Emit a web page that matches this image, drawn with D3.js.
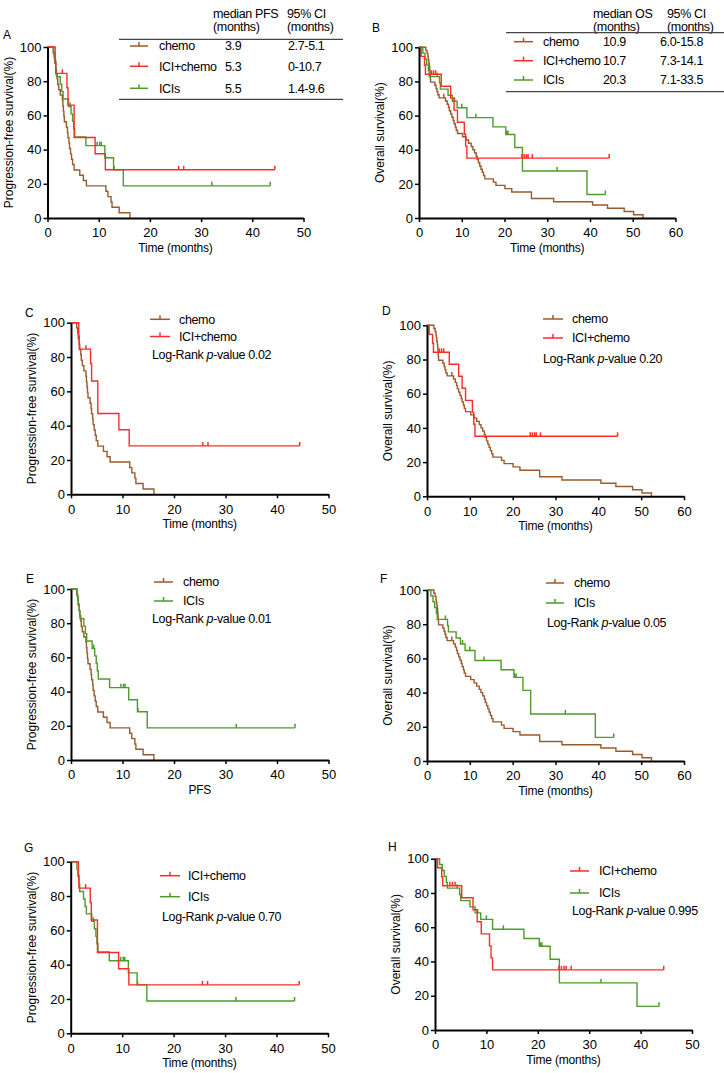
<!DOCTYPE html>
<html><head><meta charset="utf-8">
<script src="https://cdn.jsdelivr.net/npm/d3@7"></script>
<style>
body{margin:0;background:#fff;}
svg text{font-family:"Liberation Sans",Arial,sans-serif;fill:#000;}
</style></head><body>
<svg id="chart" width="724" height="1073"></svg>
<script>
// ---------------- DATA ----------------
const seriesNames = ["chemo", "ICI+chemo", "ICIs"];
const seriesColors = ["#9b5a2c", "#ff2b2b", "#4e9a2b"];

// Kaplan-Meier steps: [time (months), survival % after the step]
const pfsChemo = [[0,100],[1.1,96.9],[1.3,93.8],[1.4,90.6],[1.6,87.5],[1.7,84.4],[1.9,81.3],[2.0,78.1],[2.2,75.0],[2.5,71.9],[2.9,68.8],[3.0,65.6],[3.1,62.5],[3.2,59.4],[3.3,56.3],[3.7,53.1],[3.9,50.0],[4.0,46.9],[4.2,43.8],[4.3,40.6],[4.5,37.5],[4.7,34.4],[4.9,31.3],[5.2,28.1],[6.3,25.0],[7.0,21.9],[7.6,18.8],[11.4,15.6],[11.8,12.5],[12.4,9.4],[12.6,6.3],[14.0,3.1],[16.1,0]];
const pfsChemoCensor = [];
const pfsCombo = [[0,100],[1.5,92.3],[1.6,84.6],[3.8,76.2],[4.0,66.0],[5.2,47.1],[9.3,37.6],[11.3,28.2]];
const pfsComboCensor = [2.9, 25.6, 26.6, 44.4];
const pfsICI = [[0,100],[1.2,95.7],[1.4,91.3],[1.6,87.0],[1.75,82.6],[2.5,78.3],[2.8,73.9],[3.05,69.6],[4.1,65.2],[4.6,60.9],[4.9,56.5],[5.1,52.2],[5.3,47.4],[7.5,42.3],[11.2,35.2],[12.9,28.2],[14.8,18.8]];
const pfsICICensor = [4.4, 9.7, 10.2, 10.5, 13.0, 32.1, 43.5];

const osChemo = [[0,100],[1.6,98.1],[1.9,96.3],[2.1,94.4],[2.2,92.6],[2.3,90.7],[2.4,88.9],[2.5,87.0],[2.55,85.2],[2.6,83.3],[2.65,81.5],[2.7,79.6],[3.7,77.8],[4.0,75.9],[4.2,74.1],[4.4,72.2],[4.7,70.4],[6.2,68.5],[6.6,66.6],[6.9,64.7],[7.1,62.8],[7.4,60.9],[7.7,59.0],[8.0,57.1],[8.2,55.2],[8.5,53.3],[8.7,51.4],[9.0,49.5],[10.2,47.6],[11.0,45.7],[11.6,43.8],[12.2,41.9],[12.6,40.0],[13.0,38.1],[13.4,36.2],[13.6,34.3],[13.9,32.4],[14.2,30.5],[14.5,28.6],[14.8,26.7],[15.1,24.8],[15.4,22.9],[17.4,21.0],[18.0,19.1],[20.1,17.2],[21.7,15.2],[26.3,11.4],[31.5,9.5],[40.6,7.6],[44.1,5.7],[48.0,3.8],[50.2,1.9],[52.4,0]];
const osChemoCensor = [5.8];
const osCombo = [[0,100],[0.5,94.7],[1.3,89.5],[1.5,84.2],[5.2,77.2],[7.4,70.2],[8.2,63.2],[9.0,56.1],[10.6,49.1],[10.9,42.1],[11.2,35.1]];
const osComboCensor = [2.9, 3.4, 3.9, 24.1, 24.6, 25.1, 25.5, 26.5, 44.5];
const osICI = [[0,100],[0.9,96.6],[1.4,93.1],[1.8,89.7],[2.2,86.2],[2.4,82.8],[4.8,79.1],[5.0,75.5],[6.8,71.9],[7.8,68.4],[8.9,64.6],[11.2,58.8],[17.3,53.4],[20.3,48.9],[22.4,41.3],[24.2,27.5],[39.3,13.8]];
const osICICensor = [4.3, 8.3, 10.0, 13.3, 20.5, 20.8, 32.3, 43.6];

// summary tables
const medianPFS = ["3.9", "5.3", "5.5"];
const ciPFS = ["2.7-5.1", "0-10.7", "1.4-9.6"];
const medianOS = ["10.9", "10.7", "20.3"];
const ciOS = ["6.0-15.8", "7.3-14.1", "7.1-33.5"];
const pValues = ["0.02", "0.20", "0.01", "0.05", "0.70", "0.995"];
const yTicks = [0, 20, 40, 60, 80, 100];

// ---------------- DRAWING ----------------
const pfs = [{s:pfsChemo,c:pfsChemoCensor},{s:pfsCombo,c:pfsComboCensor},{s:pfsICI,c:pfsICICensor}];
const os = [{s:osChemo,c:osChemoCensor},{s:osCombo,c:osComboCensor},{s:osICI,c:osICICensor}];

const panels = [
  {id:"A", curves:pfs, ser:[0,1,2], xMax:50, L:47.5, R:303.5, T:47, B:218, xt:"Time (months)", yt:"Progression-free survival(%)", lab:[3,38.5]},
  {id:"B", curves:os, ser:[0,1,2], xMax:60, L:419, R:675.5, T:47.3, B:218, xt:"Time (months)", yt:"Overall survival(%)", lab:[372,32]},
  {id:"C", curves:pfs, ser:[0,1], xMax:50, L:71, R:328.5, T:322.7, B:494.3, xt:"Time (months)", yt:"Progression-free survival(%)", lab:[25,317],
    leg:{x0:150,x1:170,tx:179,rows:[319.3,336.5],px:152,py:359,p:0}},
  {id:"D", curves:os, ser:[0,1], xMax:60, L:427, R:684, T:325.3, B:496.3, xt:"Time (months)", yt:"Overall survival(%)", lab:[382,315],
    leg:{x0:543,x1:563,tx:572,rows:[319,338],px:543,py:363,p:1}},
  {id:"E", curves:pfs, ser:[0,2], xMax:50, L:71, R:328.5, T:589, B:760, xt:"PFS", yt:"Progression-free survival(%)", lab:[26,583],
    leg:{x0:154,x1:173,tx:183,rows:[582,601],px:152,py:623,p:2}},
  {id:"F", curves:os, ser:[0,2], xMax:60, L:427, R:684, T:590, B:761, xt:"Time (months)", yt:"Overall survival(%)", lab:[380,583],
    leg:{x0:546,x1:564,tx:574,rows:[583,603],px:547,py:627,p:3}},
  {id:"G", curves:pfs, ser:[1,2], xMax:50, L:70.7, R:328, T:861.7, B:1033.3, xt:"Time (months)", yt:"Progression-free survival(%)", lab:[24,852],
    leg:{x0:160,x1:180,tx:188,rows:[875.7,896.7],px:162,py:921,p:4}},
  {id:"H", curves:os, ser:[1,2], xMax:50, L:435, R:692, T:858.7, B:1030, xt:"Time (months)", yt:"Overall survival(%)", lab:[388,851],
    leg:{x0:570,x1:589,tx:599,rows:[871,893],px:572,py:915,p:5}}
];

const svg = d3.select("#chart");
const LS = -0.35; // slight condensing of labels

function survAt(steps, t) {
  let v = steps[0][1];
  for (const [tt, s] of steps) if (tt <= t) v = s;
  return v;
}

function legendMark(g, x0, x1, y, color) {
  g.append("line").attr("x1", x0).attr("x2", x1).attr("y1", y).attr("y2", y)
    .attr("stroke", color).attr("stroke-width", 1.5);
  const xm = (x0 + x1) / 2;
  g.append("line").attr("x1", xm).attr("x2", xm).attr("y1", y).attr("y2", y - 4)
    .attr("stroke", color).attr("stroke-width", 1.5);
}

panels.forEach(p => {
  const g = svg.append("g");
  const x = d3.scaleLinear().domain([0, p.xMax]).range([p.L, p.R]);
  const y = d3.scaleLinear().domain([0, 100]).range([p.B, p.T]);

  // curves (draw order: chemo, ICIs, ICI+chemo)
  const order = [0, 2, 1].filter(i => p.ser.includes(i));
  order.forEach(i => {
    const cv = p.curves[i];
    const last = cv.s[cv.s.length - 1];
    const end = Math.max(last[0], ...(cv.c.length ? cv.c : [0]));
    const pts = cv.s.concat([[end, last[1]]]);
    g.append("path")
      .attr("d", d3.line().x(d => x(d[0])).y(d => y(d[1])).curve(d3.curveStepAfter)(pts))
      .attr("fill", "none").attr("stroke", seriesColors[i]).attr("stroke-width", 1.4);
    g.selectAll(null).data(cv.c).enter().append("line")
      .attr("x1", d => x(d)).attr("x2", d => x(d))
      .attr("y1", d => y(survAt(cv.s, d))).attr("y2", d => y(survAt(cv.s, d)) - 4)
      .attr("stroke", seriesColors[i]).attr("stroke-width", 1.5);
  });

  // axes
  const ya = g.append("g").attr("transform", `translate(${p.L},0)`)
    .call(d3.axisLeft(y).tickValues(yTicks).tickSize(4).tickSizeOuter(0).tickPadding(2));
  const xa = g.append("g").attr("transform", `translate(0,${p.B})`)
    .call(d3.axisBottom(x).ticks(p.xMax / 10).tickSize(4).tickSizeOuter(0).tickPadding(6));
  [ya, xa].forEach(a => {
    a.select(".domain").attr("stroke", "#000").attr("stroke-width", 2);
    a.selectAll(".tick line").attr("stroke", "#000").attr("stroke-width", 1.5);
    a.selectAll(".tick text").attr("font-size", 13).attr("font-family", '"Liberation Sans",Arial,sans-serif').attr("fill", "#000");
  });

  // titles
  g.append("text").attr("x", (p.L + p.R) / 2).attr("y", p.B + 34).attr("letter-spacing", -0.2)
    .attr("text-anchor", "middle").attr("font-size", 12).text(p.xt);
  g.append("text").attr("transform", `translate(${p.L - 35},${(p.T + p.B) / 2}) rotate(-90)`)
    .attr("text-anchor", "middle").attr("font-size", 12).text(p.yt);
  g.append("text").attr("x", p.lab[0]).attr("y", p.lab[1]).attr("font-size", 12).text(p.id);

  // pairwise legends
  if (p.leg) {
    p.ser.forEach((si, k) => {
      const yy = p.leg.rows[k];
      legendMark(g, p.leg.x0, p.leg.x1, yy, seriesColors[si]);
      g.append("text").attr("x", p.leg.tx).attr("y", yy + 4.3).attr("font-size", 12.5)
        .attr("letter-spacing", LS).text(seriesNames[si]);
    });
    const t = g.append("text").attr("x", p.leg.px).attr("y", p.leg.py).attr("font-size", 12.5).attr("letter-spacing", LS);
    t.append("tspan").text("Log-Rank ");
    t.append("tspan").attr("font-style", "italic").text("p");
    t.append("tspan").text("-value " + pValues[p.leg.p]);
  }
});

// summary tables (A: PFS, B: OS)
function table(cfg) {
  const g = svg.append("g");
  const txt = (x, y, s) => g.append("text").attr("x", x).attr("y", y).attr("font-size", 12.5)
    .attr("letter-spacing", LS).text(s);
  txt(cfg.h1x, 18, cfg.h1);
  txt(cfg.h1x, 31, "(months)");
  txt(cfg.h2x, 18, "95% CI");
  txt(cfg.h2x, 31, "(months)");
  [cfg.top, cfg.bot].forEach(yy => g.append("line").attr("x1", cfg.x0).attr("x2", cfg.x1)
    .attr("y1", yy).attr("y2", yy).attr("stroke", "#444").attr("stroke-width", 1.3));
  seriesNames.forEach((n, i) => {
    const yy = cfg.rows[i];
    legendMark(g, cfg.lx0, cfg.lx1, yy, seriesColors[i]);
    txt(cfg.tx, yy + 4.3, n);
    txt(cfg.mx, yy + 4.3, cfg.med[i]);
    txt(cfg.cx, yy + 4.3, cfg.ci[i]);
  });
}
table({h1:"median PFS", h1x:213, h2x:287, top:39.3, bot:99.3, x0:119, x1:343,
  rows:[46, 66.3, 88.3], lx0:130, lx1:148, tx:159, mx:225, cx:288, med:medianPFS, ci:ciPFS});
table({h1:"median OS", h1x:593, h2x:667, top:32.7, bot:91.7, x0:506, x1:724,
  rows:[41.7, 60.7, 80], lx0:514, lx1:533, tx:543, mx:603, cx:660, med:medianOS, ci:ciOS});
</script>
</body></html>
